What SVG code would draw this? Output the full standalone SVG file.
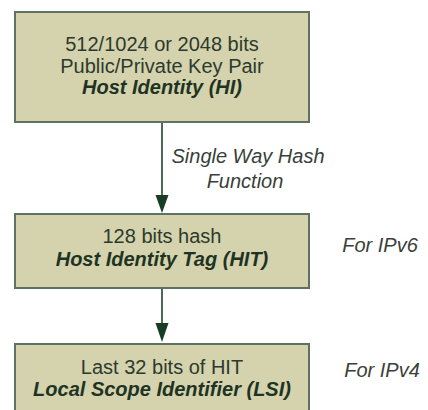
<svg xmlns="http://www.w3.org/2000/svg" width="428" height="410" viewBox="0 0 428 410">
<style>
.box{fill:#d5d3ad;stroke:#5e7262;stroke-width:2}
.t{font-family:"Liberation Sans",Arial,sans-serif;font-size:20px;fill:#2c3a2e;text-anchor:middle}
.b{font-weight:bold;font-style:italic;fill:#1f3324}
.i{font-style:italic;fill:#3a3f3a}
.ln{stroke:#4d6a56;stroke-width:2;fill:none}
.hd{fill:#173d27}
</style>
<rect width="428" height="410" fill="#ffffff"/>
<g id="connectors">
<line class="ln" x1="162" y1="122" x2="162" y2="197"/>
<polygon class="hd" points="155.5,195 168.5,195 162,213"/>
<text class="t i" x="248" y="163">Single Way Hash</text>
<text class="t i" x="245" y="188">Function</text>
<line class="ln" x1="162" y1="288" x2="162" y2="325"/>
<polygon class="hd" points="155.5,323 168.5,323 162,342"/>
</g>
<g id="hi">
<rect class="box" x="15" y="12" width="294" height="110"/>
<text class="t" x="162" y="51">512/1024 or 2048 bits</text>
<text class="t" x="162" y="73">Public/Private Key Pair</text>
<text class="t b" x="162" y="94">Host Identity (HI)</text>
</g>
<g id="hit">
<rect class="box" x="15" y="214" width="294" height="74"/>
<text class="t" x="162" y="243">128 bits hash</text>
<text class="t b" x="162" y="265.5">Host Identity Tag (HIT)</text>
</g>
<g id="lsi">
<rect class="box" x="15" y="344" width="294" height="80"/>
<text class="t" x="162" y="374">Last 32 bits of HIT</text>
<text class="t b" x="162" y="396">Local Scope Identifier (LSI)</text>
</g>
<g id="ipv6">
<text class="t i" x="380" y="252">For IPv6</text>
</g>
<g id="ipv4">
<text class="t i" x="382" y="377">For IPv4</text>
</g>
</svg>
